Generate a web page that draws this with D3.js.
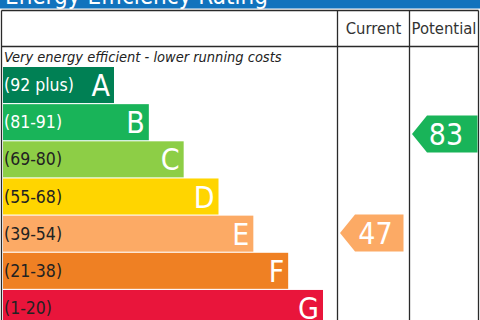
<!DOCTYPE html>
<html>
<head>
  <meta charset="UTF-8">
  <title>Energy Efficiency Rating</title>
  <script src="https://d3js.org/d3.v7.min.js"></script>
  <style>
    body { margin: 0; background: #fff; }
    text { font-family: "DejaVu Sans Condensed", "DejaVu Sans", sans-serif; }
  </style>
</head>
<body>
  <svg></svg>
</body>
<script>
  let width = 480,
    height = 320;

  // chart data
  const title = "Energy Efficiency Rating";
  const headers = ["Current", "Potential"];
  const topNote = "Very energy efficient - lower running costs";
  const bands = ["A", "B", "C", "D", "E", "F", "G"];
  const ranges = ["(92 plus)", "(81-91)", "(69-80)", "(55-68)", "(39-54)", "(21-38)", "(1-20)"];
  const bandMin = [92, 81, 69, 55, 39, 21, 1];
  const bandMax = [100, 91, 80, 68, 54, 38, 20];
  const bandColors = ["#008054", "#19b459", "#8dce46", "#ffd500", "#fcaa65", "#ef8023", "#e9153b"];
  const labelColors = ["#fff", "#fff", "#222", "#222", "#222", "#222", "#222"];
  const scores = [47, 83]; // current, potential

  let svg = d3.select("svg")
    .attr("width", width)
    .attr("height", height);

  // blue title strip (text is cut off at top)
  svg.append("rect")
    .attr("x", 0).attr("y", 0)
    .attr("width", width).attr("height", 8.5)
    .attr("fill", "#1173bd");
  svg.append("text")
    .attr("x", 5).attr("y", 3.5)
    .attr("font-size", 24)
    .attr("fill", "#fff")
    .text(title);

  // columns
  let colX = d3.scaleOrdinal()
    .domain(["chart", "Current", "Potential"])
    .range([1.5, 337.5, 409.5]);
  let colRight = 478.5;
  let tableTop = 10.5,
    headerBottom = 46.5;

  let grid = svg.append("g")
    .attr("stroke", "#2a2a2a")
    .attr("stroke-width", 1.3)
    .attr("fill", "none");
  grid.append("line").attr("x1", 1.5).attr("x2", colRight).attr("y1", tableTop).attr("y2", tableTop);
  grid.append("line").attr("x1", 1.5).attr("x2", colRight).attr("y1", headerBottom).attr("y2", headerBottom);
  [1.5, colX("Current"), colX("Potential"), colRight].forEach(x => {
    grid.append("line").attr("x1", x).attr("x2", x).attr("y1", tableTop).attr("y2", height);
  });

  // header labels
  svg.selectAll(".head")
    .data(headers)
    .enter()
    .append("text")
    .attr("class", "head")
    .attr("x", (d, i) => (colX(d) + (i == 0 ? colX("Potential") : colRight)) / 2)
    .attr("y", 34)
    .attr("text-anchor", "middle")
    .attr("font-size", 16.5)
    .attr("fill", "#333")
    .text(d => d);

  svg.append("text")
    .attr("x", 4).attr("y", 62)
    .attr("font-size", 14.5)
    .attr("font-style", "italic")
    .attr("fill", "#222")
    .text(topNote);

  // band scales
  let y = d3.scaleBand()
    .domain(bands)
    .range([67, 67 + 37 * bands.length])
    .paddingInner(0.03);
  let xEnd = d3.scalePoint()
    .domain(bands)
    .range([114, 323]);

  let rows = svg.append("g")
    .selectAll("g")
    .data(bands)
    .enter()
    .append("g");

  rows.append("rect")
    .attr("x", 3)
    .attr("y", d => y(d))
    .attr("width", d => xEnd(d) - 3)
    .attr("height", y.bandwidth())
    .attr("fill", (d, i) => bandColors[i]);

  rows.append("text")
    .attr("x", 4)
    .attr("y", d => y(d) + y.bandwidth() / 2 + 6)
    .attr("font-size", 17.5)
    .attr("fill", (d, i) => labelColors[i])
    .text((d, i) => ranges[i]);

  rows.append("text")
    .attr("x", d => xEnd(d) - 4)
    .attr("y", d => y(d) + y.bandwidth() / 2 + 11)
    .attr("text-anchor", "end")
    .attr("font-size", 30)
    .attr("fill", "#fff")
    .text(d => d);

  // rating arrows
  function bandOf(s) {
    return bands.findIndex((b, i) => s >= bandMin[i] && s <= bandMax[i]);
  }

  let arrows = svg.append("g")
    .selectAll("g")
    .data(scores)
    .enter()
    .append("g");

  arrows.append("path")
    .attr("fill", d => bandColors[bandOf(d)])
    .attr("d", (d, i) => {
      let bi = bandOf(d);
      let frac = (bandMax[bi] - d) / (bandMax[bi] - bandMin[bi]);
      let cy = y(bands[bi]) + frac * y.step();
      let x0 = colX(headers[i]) + 2.5;
      let x1 = (i == 0 ? colX("Potential") : colRight) - 6 + i * 5;
      let h = 18.5;
      return "M" + x0 + "," + cy + "L" + (x0 + 15) + "," + (cy - h) + "L" + x1 + "," + (cy - h) +
        "L" + x1 + "," + (cy + h) + "L" + (x0 + 15) + "," + (cy + h) + "Z";
    });

  arrows.append("text")
    .attr("x", (d, i) => (colX(headers[i]) + (i == 0 ? colX("Potential") : colRight)) / 2 + 2)
    .attr("y", d => {
      let bi = bandOf(d);
      let frac = (bandMax[bi] - d) / (bandMax[bi] - bandMin[bi]);
      return y(bands[bi]) + frac * y.step() + 11;
    })
    .attr("text-anchor", "middle")
    .attr("font-size", 30)
    .attr("fill", "#fff")
    .text(d => d);
</script>
</html>
